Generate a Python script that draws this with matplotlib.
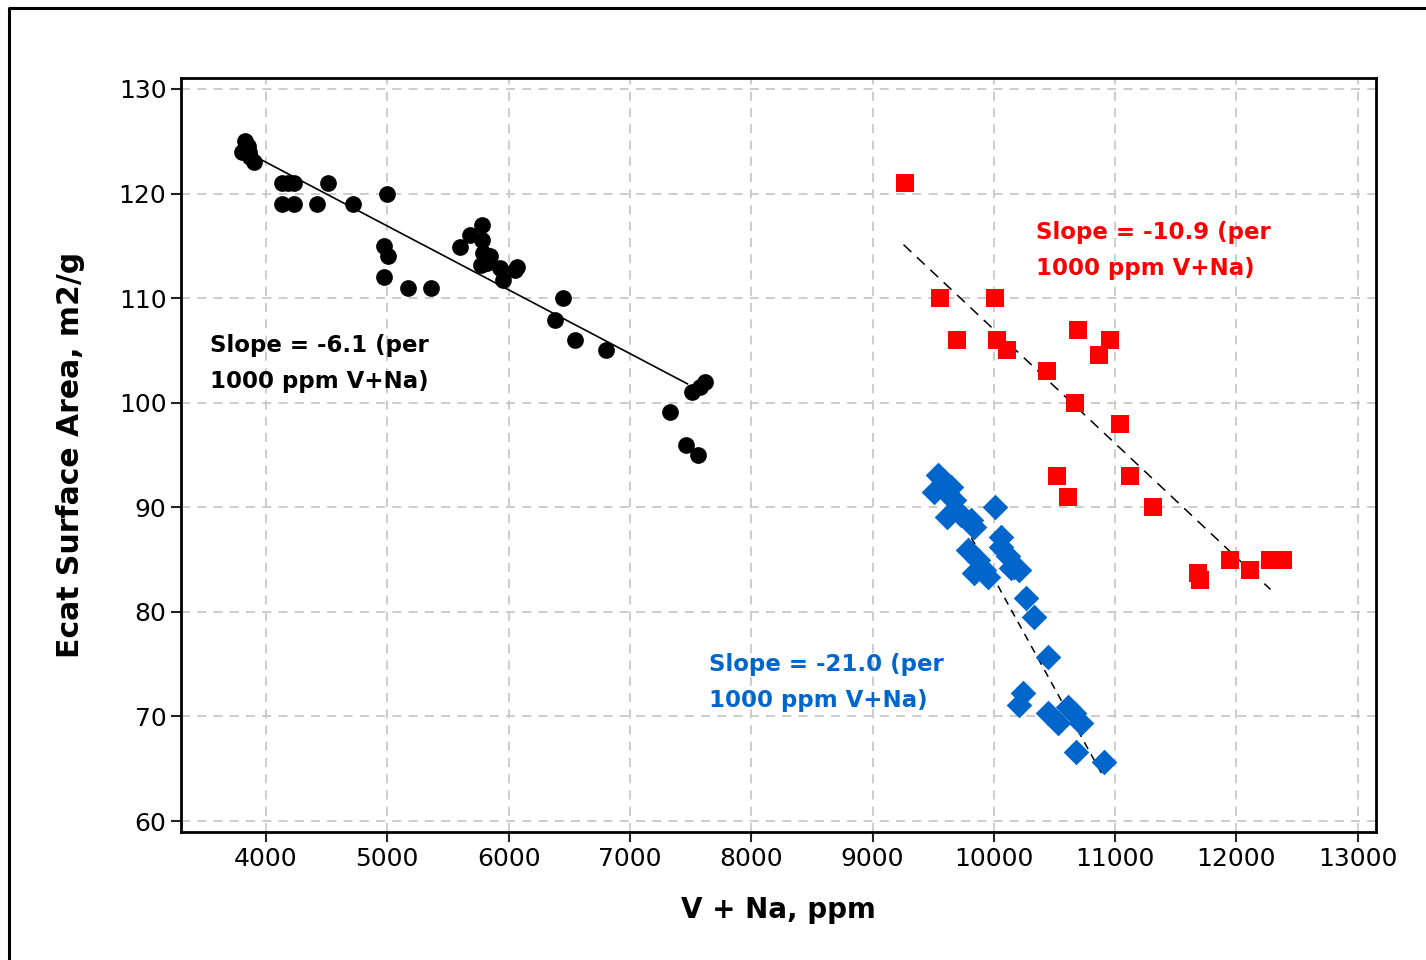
import matplotlib
matplotlib.use("Agg")
import matplotlib.pyplot as plt
from matplotlib.lines import Line2D
import numpy as np

# ---- data ----
black_x = [3830, 3850, 3800, 3870, 3900, 3860,
           4130, 4180, 4230, 4130, 4230, 4420, 4510, 4720, 5000,
           4970, 5010, 4970, 5170, 5360,
           5600, 5680, 5780, 5780, 5790, 5820, 5850, 5930, 5955, 6050, 6070, 5770,
           6450, 6385, 6550, 6800, 7330, 7460, 7560, 7510, 7620, 7580]
black_y = [125, 124.5, 124, 123.5, 123, 124,
           121, 121, 121, 119, 119, 119, 121, 119, 120,
           115, 114, 112, 111, 111,
           114.9, 116, 117, 115.6, 114.3, 113.4, 114, 112.9, 111.7, 112.7, 113, 113.2,
           110, 107.9, 106, 105, 99.1, 96, 95, 101, 102, 101.5]

red_x = [9270, 9560, 10010, 9700, 10030, 10110, 10690, 10960, 10870, 10440,
         10670, 11040, 10520, 10610, 11120, 11310, 11680, 11700, 11950, 12110,
         12280, 12380]
red_y = [121, 110, 110, 106, 106, 105, 107, 106, 104.6, 103,
         100, 98, 93, 91, 93, 90, 83.7, 83, 85, 84,
         85, 85]

blue_x = [9536, 9578, 9643, 9503, 9618, 9668, 9618, 9726, 9808, 9833,
          10013, 9784, 9866, 9833, 9950, 9916, 10056, 10056, 10113, 10163,
          10205, 10139, 10262, 10330, 10443, 10238, 10205, 10443, 10525, 10608,
          10660, 10718, 10677, 10906]
blue_y = [93.1, 92.6, 91.9, 91.5, 91.4, 90.7, 89.1, 89.3, 88.8, 88.1,
          90, 85.9, 85, 83.7, 83.3, 84, 87.2, 86.2, 85.3, 84.3,
          84, 84.2, 81.3, 79.5, 75.7, 72.2, 71.1, 70.3, 69.4, 70.9,
          70.3, 69.4, 66.6, 65.6]

# fitted trend lines: (intercept, slope per ppm, x start, x end)
black_fit = (147.4, -0.0061, 3934, 7474)
red_fit = (216.0, -0.0109, 9256, 12280)
blue_fit = (293.2, -0.0210, 9650, 10906)

x_ticks = [4000, 5000, 6000, 7000, 8000, 9000, 10000, 11000, 12000, 13000]
y_ticks = [60, 70, 80, 90, 100, 110, 120, 130]

black_label = "Slope = -6.1 (per\n1000 ppm V+Na)"
red_label = "Slope = -10.9 (per\n1000 ppm V+Na)"
blue_label = "Slope = -21.0 (per\n1000 ppm V+Na)"

BLUE = "#0066CC"
RED = "#FF0000"

fig = plt.figure(figsize=(14.26, 9.6), dpi=100)
ax = fig.add_axes([181/1426, 1 - 832/960, (1376-181)/1426, (832-78)/960])

ax.set_xlim(3300, 13150)
ax.set_ylim(58.95, 131.05)
ax.set_xticks(x_ticks)
ax.set_yticks(y_ticks)
ax.grid(True, color="#c8c8c8", linestyle=(0, (5, 4)), linewidth=1.3)
ax.set_axisbelow(True)

def fit_line(f, **kw):
    b, m, x0, x1 = f
    xs = np.array([x0, x1])
    ax.plot(xs, b + m * xs, zorder=2, **kw)

fit_line(black_fit, color="black", linewidth=1.2)
fit_line(red_fit, color="black", linewidth=1.1, linestyle=(0, (7, 5)))
fit_line(blue_fit, color="black", linewidth=1.1, linestyle=(0, (5, 4)))

ax.scatter(black_x, black_y, s=145, marker="o", color="black", zorder=3, linewidths=0)
ax.scatter(red_x, red_y, s=155, marker="s", color=RED, zorder=3, linewidths=0)
ax.scatter(blue_x, blue_y, s=170, marker="D", color=BLUE, zorder=3, linewidths=0)

tfont = dict(fontsize=16.5, fontweight="bold", family="DejaVu Sans", linespacing=1.7)
ax.text(3538, 103.75, black_label, color="black", va="center", ha="left", **tfont)
ax.text(10345, 114.56, red_label, color=RED, va="center", ha="left", **tfont)
ax.text(7655, 73.25, blue_label, color=BLUE, va="center", ha="left", **tfont)

ax.set_xlabel("V + Na, ppm", fontsize=20, fontweight="bold", labelpad=18)
ax.set_ylabel("Ecat Surface Area, m2/g", fontsize=21.5, fontweight="bold", labelpad=24)

ax.tick_params(axis="both", labelsize=18, length=7, width=1.5, direction="out", color="#222222")
for sp in ax.spines.values():
    sp.set_linewidth(2)
    sp.set_color("black")

# outer frame (left and top edges)
fig.add_artist(Line2D([9/1426, 9/1426, 1.01], [0, 1 - 8/960, 1 - 8/960],
                      transform=fig.transFigure, color="black", linewidth=2.2))

fig.savefig("out.png", dpi=100)
